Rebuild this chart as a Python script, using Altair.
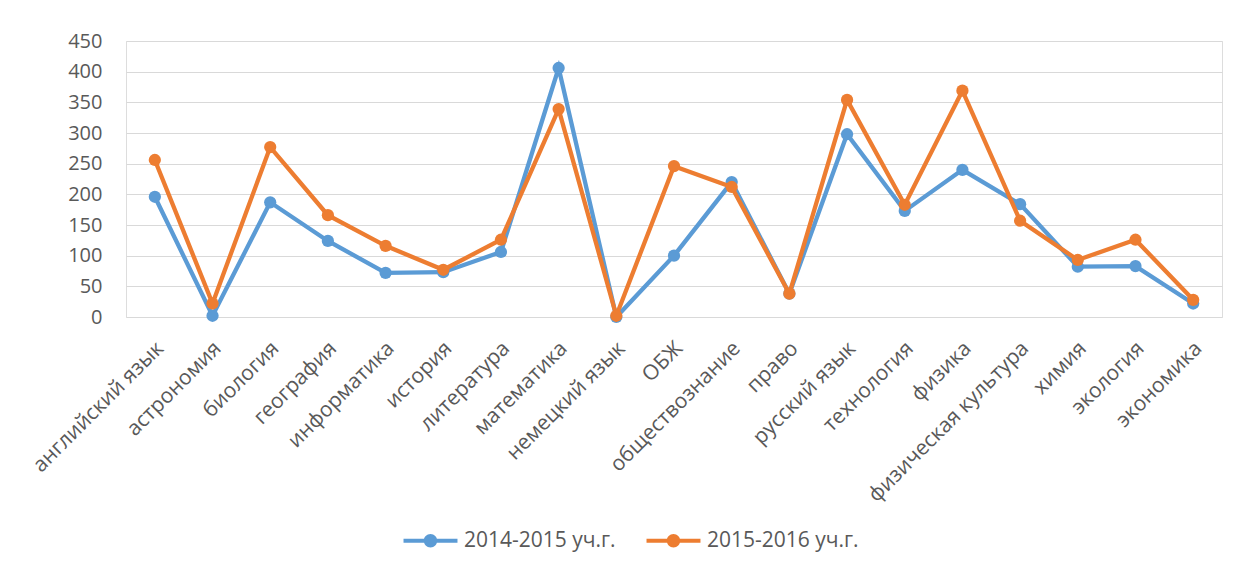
import altair as alt
import pandas as pd

subjects = [
    "английский язык", "астрономия", "биология", "география", "информатика",
    "история", "литература", "математика", "немецкий язык", "ОБЖ",
    "обществознание", "право", "русский язык", "технология", "физика",
    "физическая культура", "химия", "экология", "экономика",
]
series_names = ["2014-2015 уч.г.", "2015-2016 уч.г."]
values_2014 = [196, 2, 187, 124, 72, 73, 106, 406, 0, 100, 220, 38, 298, 173, 240, 184, 82, 83, 22]
values_2015 = [256, 22, 277, 166, 116, 77, 126, 339, 2, 246, 212, 38, 354, 183, 369, 157, 93, 126, 28]
y_ticks = [0, 50, 100, 150, 200, 250, 300, 350, 400, 450]
colors = ["#5B9BD5", "#ED7D31"]

rows = []
for i, s in enumerate(subjects):
    rows.append({"subject": s, "series": series_names[0], "value": values_2014[i], "order": i})
    rows.append({"subject": s, "series": series_names[1], "value": values_2015[i], "order": i})
df = pd.DataFrame(rows)

FONT = "Open Sans"
GRAY = "#595959"

legend_path = (
    "M-4,-0.3 L4,-0.3 L4,0.3 L-4,0.3 Z "
    "M1,0 A1,1 0 1,1 -1,0 A1,1 0 1,1 1,0 Z"
)

x_enc = alt.X(
    "subject:N", sort=subjects, title=None,
    axis=alt.Axis(
        labelAngle=-45, labelAlign="right", labelBaseline="middle",
        labelPadding=28, labelOffset=5, ticks=False, domain=False, grid=False,
        labelFontSize=21, labelColor=GRAY, labelFont=FONT, labelOverlap=False,
        labelLimit=400,
    ),
)
y_enc = alt.Y(
    "value:Q", title=None,
    scale=alt.Scale(domain=[0, 450], nice=False),
    axis=alt.Axis(
        values=y_ticks, ticks=False, domain=False, grid=True,
        gridColor="#D9D9D9", gridWidth=1, labelPadding=24,
        labelFontSize=20, labelColor=GRAY, labelFont=FONT,
    ),
)
color_enc = alt.Color(
    "series:N", title=None,
    scale=alt.Scale(domain=series_names, range=colors),
    legend=alt.Legend(
        orient="none", direction="horizontal", legendX=294, legendY=489,
        symbolType=legend_path, symbolSize=182, symbolStrokeWidth=0,
        labelFontSize=21, labelColor=GRAY, labelFont=FONT,
        columnPadding=30, labelOffset=23,
    ),
)

base = alt.Chart(df)
layers = []
for name in series_names:
    sub = base.transform_filter(alt.datum.series == name)
    layers.append(
        sub.mark_line(strokeWidth=4.3).encode(x=x_enc, y=y_enc, color=color_enc, order="order:Q")
    )
    layers.append(
        sub.mark_point(filled=True, size=150, opacity=1).encode(x=x_enc, y=y_enc, color=color_enc)
    )

chart = alt.layer(*layers).properties(
    width=1096, height=276,
    autosize=alt.AutoSizeParams(type="none"),
    padding={"left": 118, "top": 33, "right": 8, "bottom": 244},
).configure_view(stroke=None).configure(background="white")

chart.save("out.html", embed_options={"renderer": "svg", "actions": False})
